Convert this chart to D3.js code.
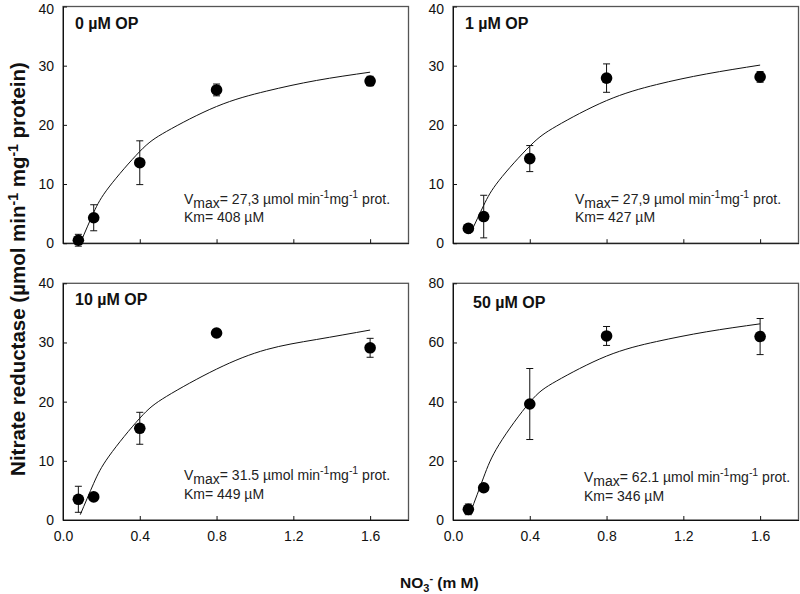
<!DOCTYPE html>
<html>
<head>
<meta charset="utf-8">
<script src="https://cdn.jsdelivr.net/npm/d3@7"></script>
<style>
  body { margin: 0; background: #fff; }
  svg { display: block; font-family: Arial, "Liberation Sans", sans-serif; }
</style>
</head>
<body>
<svg id="chart" width="800" height="594"></svg>
<script>
// ---------- data ----------
const nitrate = [0.08, 0.16, 0.4, 0.8, 1.6];           // mM NO3-
const panelTitles = ["0 µM OP", "1 µM OP", "10 µM OP", "50 µM OP"];

const activity0 = [0.5, 4.3, 13.6, 25.9, 27.4];
const error0    = [1.0, 2.2, 3.7, 1.0, 0.8];
const activity1 = [2.5, 4.5, 14.3, 27.9, 28.1];
const error1    = [0.6, 3.6, 2.2, 2.4, 0.9];
const activity2 = [3.5, 3.9, 15.5, 31.6, 29.1];
const error2    = [2.2, 0.4, 2.7, 0.5, 1.6];
const activity3 = [3.6, 10.9, 39.2, 62.2, 62.0];
const error3    = [1.8, 1.0, 12.0, 3.2, 6.1];

// fitted Michaelis-Menten curves
const fitX = [0.09, 0.16, 0.24, 0.4, 0.54, 0.8, 1.06, 1.32, 1.6];
const fit0 = [0.0, 5.2, 9.5, 15.5, 18.9, 23.1, 25.7, 27.5, 28.9];
const fit1 = [1.6, 6.4, 10.6, 16.4, 19.8, 24.1, 26.8, 28.6, 30.1];
const fit2 = [0.9, 6.2, 10.8, 17.2, 20.9, 25.5, 28.8, 30.5, 32.1];
const fit3 = [2.4, 14.5, 25.5, 39.8, 47.0, 55.4, 60.3, 63.6, 66.3];

const vmaxLabels = ["27,3", "27,9", "31.5", "62.1"];
const kmLabels = ["408", "427", "449", "346"];

const yMax = [40, 40, 40, 80];
const yTicks40 = [0, 10, 20, 30, 40];
const yTicks80 = [0, 20, 40, 60, 80];
const xTicks = [0.0, 0.4, 0.8, 1.2, 1.6];
const xMax = 1.8;

const activities = [activity0, activity1, activity2, activity3];
const errors = [error0, error1, error2, error3];
const fits = [fit0, fit1, fit2, fit3];
const yTickSets = [yTicks40, yTicks40, yTicks40, yTicks80];

// ---------- layout ----------
const svg = d3.select("#chart");
const panelW = 345.5, panelH = 236.7;
const panels = [
  { left: 63, top: 6.5, showX: false, titleDx: 12, titleY: 22, noteDx: 121, noteY: 197 },
  { left: 453, top: 6.5, showX: false, titleDx: 12, titleY: 22, noteDx: 122, noteY: 197 },
  { left: 63, top: 283.3, showX: true, titleDx: 12, titleY: 22, noteDx: 121, noteY: 197 },
  { left: 453, top: 283.3, showX: true, titleDx: 20, titleY: 25, noteDx: 131, noteY: 199 }
];

panels.forEach((p, i) => {
  const g = svg.append("g").attr("transform", `translate(${p.left},${p.top})`);
  const x = d3.scaleLinear().domain([0, xMax]).range([0, panelW]);
  const y = d3.scaleLinear().domain([0, yMax[i]]).range([panelH, 0]);

  // frame
  g.append("rect").attr("x", 0).attr("y", 0).attr("width", panelW).attr("height", panelH)
    .attr("fill", "none").attr("stroke", "#555").attr("stroke-width", 1.3);

  // y axis
  const ya = g.append("g").call(
    d3.axisLeft(y).tickValues(yTickSets[i]).tickSize(-4).tickSizeOuter(0).tickPadding(9)
      .tickFormat(d3.format("d")));
  ya.select(".domain").attr("stroke", "#111");
  ya.selectAll(".tick line").attr("stroke", "#111");
  ya.selectAll("text").attr("font-size", "14px").attr("fill", "#111")
    .attr("font-family", "Arial, 'Liberation Sans', sans-serif")
    .attr("dy", d => d === yMax[i] && p.top < 10 ? "0.5em" : "0.32em");

  // x axis
  const xa = g.append("g").attr("transform", `translate(0,${panelH})`).call(
    d3.axisBottom(x).tickValues(xTicks).tickSize(-4).tickSizeOuter(0).tickPadding(11)
      .tickFormat(d3.format(".1f")));
  xa.select(".domain").attr("stroke", "#111");
  xa.selectAll(".tick line").attr("stroke", "#111");
  xa.selectAll("text").attr("font-size", "14px").attr("fill", "#111")
    .attr("font-family", "Arial, 'Liberation Sans', sans-serif")
    .style("display", p.showX ? null : "none");

  // fitted curve
  const line = d3.line().x(d => x(d[0])).y(d => y(d[1])).curve(d3.curveNatural);
  g.append("path").datum(fitX.map((v, k) => [v, fits[i][k]]))
    .attr("d", line).attr("fill", "none").attr("stroke", "#111").attr("stroke-width", 1);

  // error bars
  const pts = nitrate.map((v, k) => ({ x: v, y: activities[i][k], e: errors[i][k] }));
  const eb = g.append("g").selectAll("g").data(pts).join("g");
  eb.append("line").attr("x1", d => x(d.x)).attr("x2", d => x(d.x))
    .attr("y1", d => y(d.y + d.e)).attr("y2", d => y(d.y - d.e))
    .attr("stroke", "#111").attr("stroke-width", 1);
  eb.append("line").attr("x1", d => x(d.x) - 3.5).attr("x2", d => x(d.x) + 3.5)
    .attr("y1", d => y(d.y + d.e)).attr("y2", d => y(d.y + d.e))
    .attr("stroke", "#111").attr("stroke-width", 1);
  eb.append("line").attr("x1", d => x(d.x) - 3.5).attr("x2", d => x(d.x) + 3.5)
    .attr("y1", d => y(d.y - d.e)).attr("y2", d => y(d.y - d.e))
    .attr("stroke", "#111").attr("stroke-width", 1);

  // dots
  g.append("g").selectAll("circle").data(pts).join("circle")
    .attr("cx", d => x(d.x)).attr("cy", d => y(d.y)).attr("r", 5.8).attr("fill", "#000");

  // panel title
  g.append("text").attr("x", p.titleDx).attr("y", p.titleY)
    .attr("font-size", "16px").attr("font-weight", "bold").attr("fill", "#111")
    .text(panelTitles[i]);

  // annotation
  const t1 = g.append("text").attr("x", p.noteDx).attr("y", p.noteY)
    .attr("font-size", "14px").attr("fill", "#222");
  t1.append("tspan").text("V");
  t1.append("tspan").attr("dy", 4).text("max");
  t1.append("tspan").attr("dy", -4).text(`= ${vmaxLabels[i]} µmol min`);
  t1.append("tspan").attr("dy", -6).attr("font-size", "10.5px").text("-1");
  t1.append("tspan").attr("dy", 6).text("mg");
  t1.append("tspan").attr("dy", -6).attr("font-size", "10.5px").text("-1");
  t1.append("tspan").attr("dy", 6).text(" prot.");

  g.append("text").attr("x", p.noteDx).attr("y", p.noteY + 18.5)
    .attr("font-size", "14px").attr("fill", "#222")
    .text(`Km= ${kmLabels[i]} µM`);
});

// y axis title
const yt = svg.append("text")
  .attr("transform", "translate(25,269) rotate(-90)")
  .attr("text-anchor", "middle")
  .attr("font-size", "20.5px").attr("font-weight", "bold").attr("fill", "#111");
yt.append("tspan").text("Nitrate reductase (µmol min");
yt.append("tspan").attr("dy", -7).attr("font-size", "14px").text("-1");
yt.append("tspan").attr("dy", 7).text(" mg");
yt.append("tspan").attr("dy", -7).attr("font-size", "14px").text("-1");
yt.append("tspan").attr("dy", 7).text(" protein)");

// x axis title
const xt = svg.append("text")
  .attr("x", 400).attr("y", 588)
  .attr("font-size", "15.5px").attr("font-weight", "bold").attr("fill", "#111");
xt.append("tspan").text("NO");
xt.append("tspan").attr("dy", 4).attr("font-size", "11px").text("3");
xt.append("tspan").attr("dy", -10).attr("font-size", "11px").text("-");
xt.append("tspan").attr("dy", 6).text("  (m M)");
</script>
</body>
</html>
